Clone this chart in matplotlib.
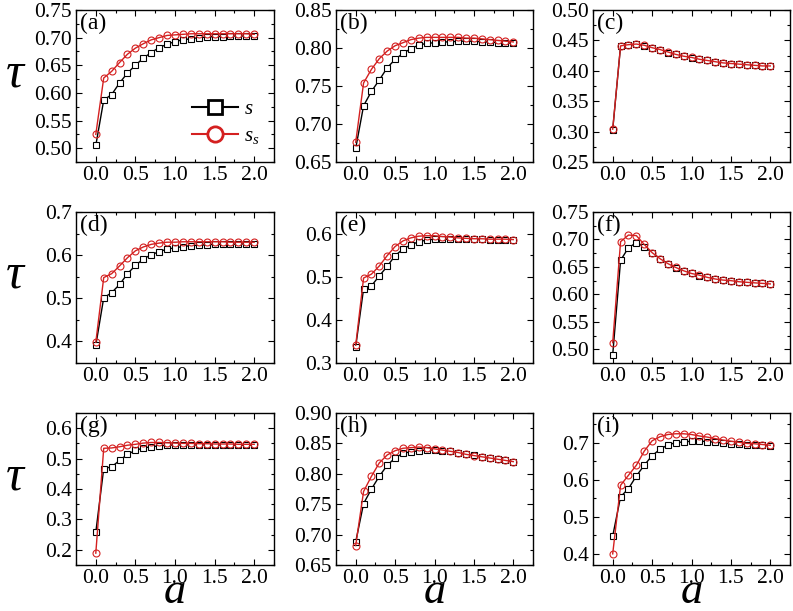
import matplotlib
matplotlib.use("Agg")
import matplotlib.pyplot as plt
from matplotlib.lines import Line2D
from matplotlib.ticker import MultipleLocator, FormatStrFormatter

plt.rcParams["font.family"] = ["Liberation Serif", "DejaVu Serif"]
plt.rcParams["mathtext.fontset"] = "custom"
plt.rcParams["mathtext.rm"] = "Liberation Serif"
plt.rcParams["mathtext.it"] = "Liberation Serif:italic"

a_vals = [round(0.1 * i, 1) for i in range(21)]

# tau values: s (black squares) and s_s (red circles)
s_a = [0.505, 0.587, 0.597, 0.618, 0.636, 0.650, 0.663, 0.673, 0.682, 0.688, 0.693,
       0.696, 0.698, 0.700, 0.701, 0.702, 0.702, 0.703, 0.703, 0.703, 0.703]
ss_a = [0.525, 0.627, 0.639, 0.655, 0.670, 0.681, 0.689, 0.696, 0.700, 0.704, 0.705,
        0.706, 0.707, 0.707, 0.707, 0.707, 0.707, 0.707, 0.707, 0.707, 0.706]

s_b = [0.668, 0.724, 0.743, 0.758, 0.774, 0.785, 0.793, 0.799, 0.804, 0.806, 0.807,
       0.808, 0.808, 0.809, 0.809, 0.809, 0.808, 0.808, 0.807, 0.807, 0.806]
ss_b = [0.676, 0.754, 0.772, 0.786, 0.796, 0.803, 0.807, 0.811, 0.813, 0.814, 0.814,
        0.814, 0.814, 0.814, 0.813, 0.813, 0.812, 0.811, 0.810, 0.809, 0.808]

s_c = [0.303, 0.441, 0.442, 0.444, 0.441, 0.438, 0.434, 0.430, 0.427, 0.424, 0.421,
       0.419, 0.417, 0.414, 0.413, 0.412, 0.411, 0.410, 0.409, 0.408, 0.408]
ss_c = [0.304, 0.441, 0.443, 0.444, 0.442, 0.438, 0.435, 0.431, 0.427, 0.424, 0.422,
        0.419, 0.417, 0.415, 0.413, 0.412, 0.411, 0.410, 0.409, 0.408, 0.408]

s_d = [0.391, 0.501, 0.513, 0.532, 0.557, 0.576, 0.591, 0.601, 0.608, 0.614, 0.617,
       0.620, 0.622, 0.623, 0.624, 0.625, 0.625, 0.625, 0.626, 0.626, 0.626]
ss_d = [0.398, 0.548, 0.557, 0.575, 0.594, 0.610, 0.619, 0.625, 0.628, 0.630, 0.630,
        0.631, 0.631, 0.631, 0.631, 0.631, 0.631, 0.630, 0.630, 0.630, 0.630]

s_e = [0.338, 0.472, 0.479, 0.502, 0.524, 0.549, 0.564, 0.574, 0.581, 0.585, 0.587,
       0.587, 0.587, 0.587, 0.587, 0.587, 0.587, 0.586, 0.586, 0.586, 0.586]
ss_e = [0.341, 0.497, 0.506, 0.525, 0.549, 0.570, 0.583, 0.590, 0.594, 0.595, 0.595,
        0.593, 0.592, 0.590, 0.589, 0.588, 0.588, 0.587, 0.587, 0.587, 0.586]

s_f = [0.490, 0.662, 0.685, 0.694, 0.687, 0.676, 0.665, 0.656, 0.648, 0.643, 0.638,
       0.634, 0.631, 0.628, 0.626, 0.624, 0.623, 0.622, 0.621, 0.620, 0.619]
ss_f = [0.512, 0.696, 0.708, 0.707, 0.691, 0.676, 0.665, 0.656, 0.649, 0.643, 0.638,
        0.635, 0.631, 0.628, 0.626, 0.625, 0.623, 0.622, 0.621, 0.620, 0.619]

s_g = [0.258, 0.467, 0.473, 0.494, 0.514, 0.527, 0.535, 0.539, 0.542, 0.544, 0.545,
       0.545, 0.545, 0.545, 0.545, 0.545, 0.545, 0.544, 0.544, 0.544, 0.544]
ss_g = [0.189, 0.534, 0.535, 0.539, 0.544, 0.547, 0.551, 0.553, 0.553, 0.552, 0.551,
        0.550, 0.550, 0.549, 0.549, 0.548, 0.548, 0.548, 0.547, 0.547, 0.547]

s_h = [0.688, 0.751, 0.775, 0.796, 0.814, 0.826, 0.834, 0.836, 0.838, 0.839, 0.839,
       0.838, 0.838, 0.835, 0.832, 0.831, 0.828, 0.826, 0.824, 0.822, 0.820]
ss_h = [0.682, 0.771, 0.796, 0.818, 0.831, 0.838, 0.842, 0.843, 0.844, 0.843, 0.841,
        0.839, 0.837, 0.835, 0.832, 0.830, 0.828, 0.826, 0.824, 0.822, 0.820]

s_i = [0.448, 0.554, 0.576, 0.610, 0.639, 0.665, 0.682, 0.694, 0.700, 0.702, 0.704,
       0.704, 0.703, 0.701, 0.699, 0.697, 0.696, 0.695, 0.694, 0.693, 0.692]
ss_i = [0.400, 0.585, 0.612, 0.639, 0.677, 0.705, 0.716, 0.722, 0.724, 0.724, 0.722,
        0.718, 0.715, 0.711, 0.707, 0.704, 0.701, 0.698, 0.697, 0.695, 0.693]

panel_labels = ["(a)", "(b)", "(c)", "(d)", "(e)", "(f)", "(g)", "(h)", "(i)"]
s_series = [s_a, s_b, s_c, s_d, s_e, s_f, s_g, s_h, s_i]
ss_series = [ss_a, ss_b, ss_c, ss_d, ss_e, ss_f, ss_g, ss_h, ss_i]
y_limits = [(0.475, 0.75), (0.65, 0.85), (0.25, 0.50),
            (0.35, 0.70), (0.30, 0.65), (0.475, 0.75),
            (0.15, 0.65), (0.65, 0.90), (0.37, 0.78)]
y_steps = [0.05, 0.05, 0.05, 0.1, 0.1, 0.05, 0.1, 0.05, 0.1]

RED = "#d42020"
W, H = 793, 611
fig = plt.figure(figsize=(W / 100, H / 100), dpi=100)

col_left = [76, 336, 593]
col_width = [198, 197, 197]
row_top = [10, 212, 413]
row_height = [152, 151, 152]

for k in range(9):
    r, c = divmod(k, 3)
    ax = fig.add_axes([col_left[c] / W, 1 - (row_top[r] + row_height[r]) / H,
                       col_width[c] / W, row_height[r] / H])
    ax.plot(a_vals, s_series[k], color="black", lw=1.0, marker="s", ms=4.3,
            mfc="white", mec="black", mew=0.8, zorder=3)
    ax.plot(a_vals, ss_series[k], color=RED, lw=1.0, marker="o", ms=5,
            mfc="none", mec=RED, mew=0.8, zorder=4)
    ax.set_xlim(-0.25, 2.25)
    ax.set_ylim(*y_limits[k])
    ax.xaxis.set_major_locator(MultipleLocator(0.5))
    ax.xaxis.set_minor_locator(MultipleLocator(0.25))
    ax.xaxis.set_major_formatter(FormatStrFormatter("%.1f"))
    step = y_steps[k]
    ax.yaxis.set_major_locator(MultipleLocator(step))
    ax.yaxis.set_minor_locator(MultipleLocator(step / 2))
    ax.yaxis.set_major_formatter(FormatStrFormatter("%.2f" if step < 0.1 else "%.1f"))
    ax.tick_params(which="both", direction="in", top=True, right=True,
                   labelsize=15.5, pad=3, width=0.8)
    ax.tick_params(which="major", length=4)
    ax.tick_params(which="minor", length=2.5)
    for sp in ax.spines.values():
        sp.set_linewidth(1.0)
    ax.text(0.02, 0.98, panel_labels[k], transform=ax.transAxes,
            ha="left", va="top", fontsize=17)
    if k == 0:
        handles = [
            Line2D([], [], color="black", lw=1.5, marker="s", ms=10,
                   mfc="white", mec="black", mew=2),
            Line2D([], [], color=RED, lw=1.5, marker="o", ms=11,
                   mfc="white", mec=RED, mew=2),
        ]
        ax.legend(handles, ["$s$", "$s_s$"], loc="lower right",
                  bbox_to_anchor=(1.02, -0.02), frameon=False, fontsize=15,
                  handlelength=2.2, handletextpad=0.3, labelspacing=0.35)
    if c == 0:
        fig.text(15 / W, 1 - (row_top[r] + row_height[r] * 0.42) / H, "τ",
                 ha="center", va="center", fontsize=36, style="italic")
    if r == 2:
        fig.text((col_left[c] + col_width[c] / 2) / W, 1 - 603 / H, "a",
                 ha="center", va="baseline", fontsize=32, style="italic")

fig.savefig("out.png", dpi=100)
